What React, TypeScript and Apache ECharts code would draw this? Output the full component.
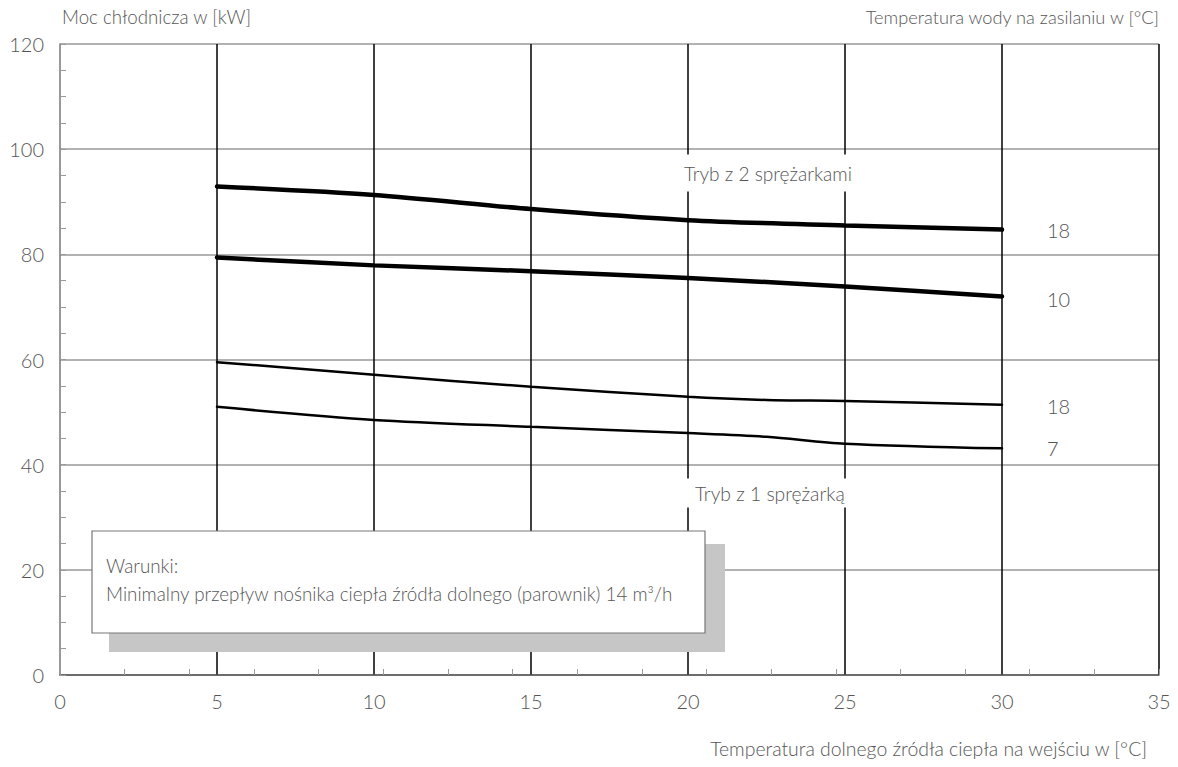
import React, { useEffect, useRef } from "react";
import * as echarts from "echarts";

// X: temperature of the lower heat source at inlet [°C]
const tempsTwo = [5, 10, 15, 20, 25, 30];
const twoComp18 = [92.9, 91.3, 88.6, 86.5, 85.5, 84.7];
const twoComp10 = [79.4, 77.9, 76.8, 75.5, 73.9, 72.0];
const tempsOne = [5, 10, 15, 20, 22.5, 25, 30];
const oneComp18 = [59.5, 57.1, 54.8, 52.9, 52.3, 52.1, 51.4];
const oneComp7 = [51.0, 48.5, 47.2, 46.0, 45.3, 44.0, 43.1];
const supplyLabels = ["18", "10", "18", "7"];

const yTitle = "Moc chłodnicza w [kW]";
const rightTitle = "Temperatura wody na zasilaniu w [°C]";
const xTitle = "Temperatura dolnego źródła ciepła na wejściu w [°C]";
const modeTwo = "Tryb z 2 sprężarkami";
const modeOne = "Tryb z 1 sprężarką";
const condTitle = "Warunki:";
const condText = "Minimalny przepływ nośnika ciepła źródła dolnego (parownik) 14 m³/h";

const FONT = "Lato, 'Liberation Sans', sans-serif";
const TXT = "#555";
const f = (size: number) => `300 ${size}px ${FONT}`;

export default function App() {
  const ref = useRef<HTMLDivElement>(null);
  useEffect(() => {
    document.body.style.margin = "0";
    const chart = echarts.init(ref.current!, undefined, { renderer: "svg" });
    const mkSeries = (xs: number[], ys: number[], width: number, label: string, offY: number) => ({
      type: "line",
      data: xs.map((x, i) => [x, ys[i]]),
      smooth: 0.3,
      symbol: "none",
      xAxisIndex: 0,
      yAxisIndex: 0,
      lineStyle: { color: "#000", width, cap: "round" },
      endLabel: {
        show: true,
        formatter: () => label,
        distance: 45,
        offset: [0, offY],
        fontSize: 20,
        color: TXT,
        fontFamily: FONT,
        fontWeight: 300,
      },
      z: 5,
    });
    chart.setOption({
      animation: false,
      textStyle: { fontFamily: FONT, fontWeight: 300 },
      grid: { left: 60, right: 19, top: 44, bottom: 92 },
      xAxis: [
        {
          type: "value",
          min: 0,
          max: 35,
          interval: 5,
          position: "bottom",
          axisLine: { show: true, lineStyle: { color: "#555", width: 1.5 } },
          axisTick: { show: false },
          axisLabel: { fontSize: 20, color: TXT, margin: 16, fontFamily: FONT, fontWeight: 300 },
          splitLine: { show: true, showMinLine: false, lineStyle: { color: "#000", width: 1.5 } },
        },
        {
          type: "value",
          min: 0,
          max: 34,
          interval: 2,
          position: "bottom",
          axisLine: { show: false },
          axisTick: { show: true, inside: true, length: 6, lineStyle: { color: "#999", width: 1 } },
          axisLabel: { show: false },
          splitLine: { show: false },
        },
      ],
      yAxis: {
        type: "value",
        min: 0,
        max: 120,
        interval: 20,
        axisLine: { show: true, lineStyle: { color: "#777", width: 1.5 } },
        axisTick: { show: true, inside: true, length: 6, lineStyle: { color: "#999" } },
        minorTick: { show: true, splitNumber: 4, length: 6, lineStyle: { color: "#999" } },
        axisLabel: { fontSize: 20, color: TXT, margin: 16, fontFamily: FONT, fontWeight: 300 },
        splitLine: { show: true, lineStyle: { color: "#999", width: 1.5 } },
      },
      series: [
        mkSeries(tempsTwo, twoComp18, 4.5, supplyLabels[0], 0),
        mkSeries(tempsTwo, twoComp10, 4.5, supplyLabels[1], 3),
        mkSeries(tempsOne, oneComp18, 2.5, supplyLabels[2], 1),
        mkSeries(tempsOne, oneComp7, 2.5, supplyLabels[3], 0),
      ],
      graphic: [
        {
          type: "text",
          x: 62,
          y: 17,
          style: { text: yTitle, fill: TXT, font: f(18.7), textVerticalAlign: "middle" },
        },
        {
          type: "text",
          x: 1159,
          y: 17,
          style: { text: rightTitle, fill: TXT, font: f(18.2), textAlign: "right", textVerticalAlign: "middle" },
        },
        {
          type: "text",
          x: 1147,
          y: 748,
          style: { text: xTitle, fill: TXT, font: f(19.4), textAlign: "right", textVerticalAlign: "middle" },
        },
        {
          type: "text",
          x: 681,
          y: 173,
          z: 100,
          style: {
            text: modeTwo,
            fill: TXT,
            font: f(19.1),
            textVerticalAlign: "middle",
            backgroundColor: "#fff",
            padding: [9, 3, 9, 3],
          },
        },
        {
          type: "text",
          x: 687,
          y: 493,
          z: 100,
          style: {
            text: modeOne,
            fill: TXT,
            font: f(19.3),
            textVerticalAlign: "middle",
            backgroundColor: "#fff",
            padding: [5, 2, 5, 8],
          },
        },
        {
          type: "rect",
          z: 100,
          shape: { x: 109, y: 544, width: 616, height: 108 },
          style: { fill: "#c6c6c6" },
        },
        {
          type: "rect",
          z: 101,
          shape: { x: 92, y: 531, width: 613, height: 102 },
          style: { fill: "#fff", stroke: "#777", lineWidth: 1.2 },
        },
        {
          type: "text",
          z: 102,
          x: 106,
          y: 565,
          style: { text: condTitle, fill: TXT, font: f(18.8), textVerticalAlign: "middle" },
        },
        {
          type: "text",
          z: 102,
          x: 106,
          y: 593,
          style: { text: condText, fill: TXT, font: f(18.8), textVerticalAlign: "middle" },
        },
      ],
    });
    return () => chart.dispose();
  }, []);
  return <div ref={ref} style={{ width: 1178, height: 767 }} />;
}
